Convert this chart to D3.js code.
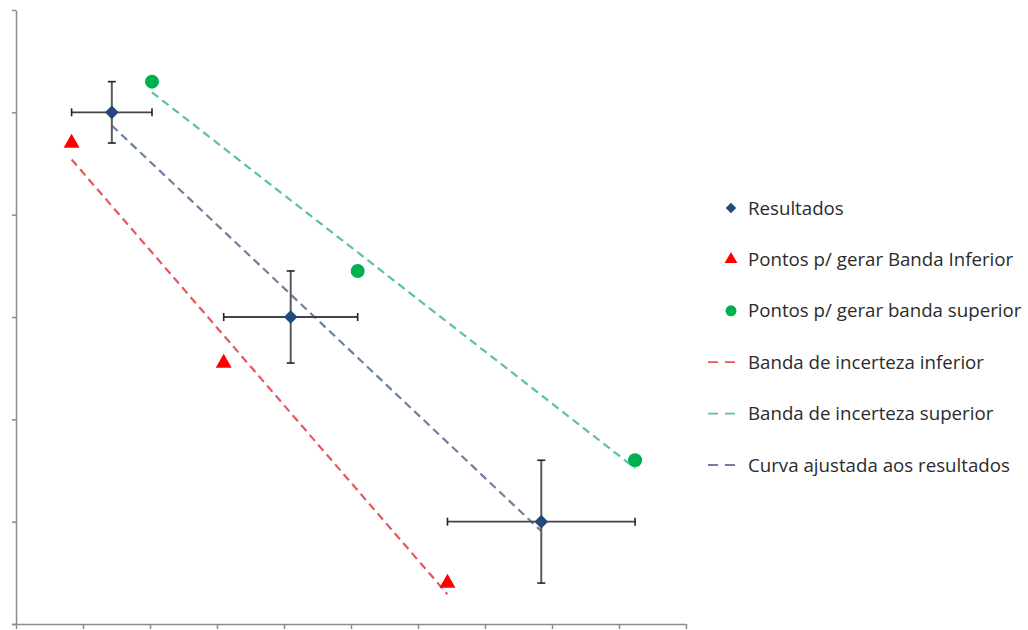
<!DOCTYPE html>
<html>
<head>
<meta charset="utf-8">
<script src="https://cdn.jsdelivr.net/npm/d3@7"></script>
<style>
  html, body { margin: 0; padding: 0; background: #fff; }
  svg { display: block; }
</style>
</head>
<body>
<svg id="chart" width="1028" height="630"></svg>
<script>
// Measured results with their uncertainties
const resX = [1.43, 4.1, 7.84];
const resY = [5.0, 3.0, 1.0];
const errX = [0.6, 1.0, 1.4];
const errY = [0.3, 0.45, 0.6];

// Points used to build the lower band
const lowX = [0.83, 3.1, 6.44];
const lowY = [4.7, 2.55, 0.4];

// Points used to build the upper band
const upX = [2.03, 5.1, 9.24];
const upY = [5.3, 3.45, 1.6];

// Axis ticks (labels hidden)
const xTicks = [0, 1, 2, 3, 4, 5, 6, 7, 8, 9, 10];
const yTicks = [0, 1, 2, 3, 4, 5, 6];

const legendLabels = [
  "Resultados",
  "Pontos p/ gerar Banda Inferior",
  "Pontos p/ gerar banda superior",
  "Banda de incerteza inferior",
  "Banda de incerteza superior",
  "Curva ajustada aos resultados"
];

const colors = {
  res: "#23497a",
  low: "#ff0000",
  up: "#00b050",
  lowLine: "#e4585e",
  upLine: "#5cc29a",
  fitLine: "#6f7f9e",
  axis: "#8c8c8c",
  err: "#444",
  text: "#2b2b2b"
};

const svg = d3.select("#chart");

const x = d3.scaleLinear().domain([0, 10]).range([16, 686]);
const y = d3.scaleLinear().domain([0, 6]).range([624, 10]);

// Axes
svg.append("g")
  .attr("transform", `translate(0,${y(0)})`)
  .call(d3.axisBottom(x).tickValues(xTicks).tickFormat("").tickSize(5).tickSizeOuter(0))
  .call(g => g.selectAll("path,line").attr("stroke", colors.axis).attr("stroke-width", 1.5))
  .call(g => g.select(".domain").attr("d", `M${x(0) - 4},0.5H${x(10)}`));

svg.append("g")
  .attr("transform", `translate(${x(0)},0)`)
  .call(d3.axisLeft(y).tickValues(yTicks).tickFormat("").tickSize(4).tickSizeOuter(0))
  .call(g => g.selectAll("path,line").attr("stroke", colors.axis).attr("stroke-width", 1.5));

// Least-squares line through a set of points, drawn over their x range
function fitLine(xs, ys) {
  const mx = d3.mean(xs), my = d3.mean(ys);
  const sxy = d3.sum(xs, (v, i) => (v - mx) * (ys[i] - my));
  const sxx = d3.sum(xs, v => (v - mx) * (v - mx));
  const b = sxy / sxx, a = my - b * mx;
  const x0 = d3.min(xs), x1 = d3.max(xs);
  return [[x0, a + b * x0], [x1, a + b * x1]];
}

const line = d3.line().x(d => x(d[0])).y(d => y(d[1]));

const fits = [
  { pts: fitLine(lowX, lowY), color: colors.lowLine },
  { pts: fitLine(upX, upY), color: colors.upLine },
  { pts: fitLine(resX, resY), color: colors.fitLine }
];

svg.append("g").selectAll("path")
  .data(fits)
  .join("path")
  .attr("d", d => line(d.pts))
  .attr("fill", "none")
  .attr("stroke", d => d.color)
  .attr("stroke-width", 2.2)
  .attr("stroke-dasharray", "8,5");

// Error bars
const res = resX.map((v, i) => ({ x: v, y: resY[i], ex: errX[i], ey: errY[i] }));
const eb = svg.append("g");
const cap = 4;
res.forEach(d => {
  // horizontal
  eb.append("line")
    .attr("x1", x(d.x - d.ex)).attr("x2", x(d.x + d.ex))
    .attr("y1", y(d.y)).attr("y2", y(d.y))
    .attr("stroke", colors.err).attr("stroke-width", 1.8);
  [d.x - d.ex, d.x + d.ex].forEach(v => eb.append("line")
    .attr("x1", x(v)).attr("x2", x(v))
    .attr("y1", y(d.y) - cap).attr("y2", y(d.y) + cap)
    .attr("stroke", "#222").attr("stroke-width", 1.6));
  // vertical
  eb.append("line")
    .attr("x1", x(d.x)).attr("x2", x(d.x))
    .attr("y1", y(d.y - d.ey)).attr("y2", y(d.y + d.ey))
    .attr("stroke", "#5a5a5a").attr("stroke-width", 2);
  [d.y - d.ey, d.y + d.ey].forEach(v => eb.append("line")
    .attr("x1", x(d.x) - cap).attr("x2", x(d.x) + cap)
    .attr("y1", y(v)).attr("y2", y(v))
    .attr("stroke", "#222").attr("stroke-width", 1.6));
});

// Markers
const diamond = d3.symbol().type(d3.symbolDiamond2).size(120);
const triangle = d3.symbol().type(d3.symbolTriangle).size(110);

svg.append("g").selectAll("path")
  .data(lowX.map((v, i) => [v, lowY[i]]))
  .join("path")
  .attr("d", triangle)
  .attr("transform", d => `translate(${x(d[0])},${y(d[1])})`)
  .attr("fill", colors.low);

svg.append("g").selectAll("circle")
  .data(upX.map((v, i) => [v, upY[i]]))
  .join("circle")
  .attr("cx", d => x(d[0])).attr("cy", d => y(d[1]))
  .attr("r", 7)
  .attr("fill", colors.up);

svg.append("g").selectAll("path")
  .data(res)
  .join("path")
  .attr("d", diamond)
  .attr("transform", d => `translate(${x(d.x)},${y(d.y)})`)
  .attr("fill", colors.res);

// Legend
const legend = svg.append("g");
const rowY = i => 208 + i * 51.4;
const kinds = ["diamond", "triangle", "circle", "lowLine", "upLine", "fitLine"];

legend.selectAll("g.item")
  .data(legendLabels)
  .join("g")
  .attr("class", "item")
  .attr("transform", (d, i) => `translate(0,${rowY(i)})`)
  .each(function (label, i) {
    const g = d3.select(this);
    const k = kinds[i];
    if (k === "diamond") {
      g.append("path").attr("d", d3.symbol().type(d3.symbolDiamond2).size(70)())
        .attr("transform", "translate(731,0)").attr("fill", colors.res);
    } else if (k === "triangle") {
      g.append("path").attr("d", d3.symbol().type(d3.symbolTriangle).size(70)())
        .attr("transform", "translate(731,0)").attr("fill", colors.low);
    } else if (k === "circle") {
      g.append("circle").attr("cx", 731).attr("cy", 0).attr("r", 5.5).attr("fill", colors.up);
    } else {
      g.append("line").attr("x1", 708).attr("x2", 736).attr("y1", 0).attr("y2", 0)
        .attr("stroke", colors[k]).attr("stroke-width", 1.8).attr("stroke-dasharray", "10,7");
    }
    g.append("text")
      .attr("x", 748).attr("y", 0).attr("dy", "0.35em")
      .attr("font-family", "Open Sans, sans-serif")
      .attr("font-size", 18.7)
      .attr("fill", colors.text)
      .text(label);
  });
</script>
</body>
</html>
